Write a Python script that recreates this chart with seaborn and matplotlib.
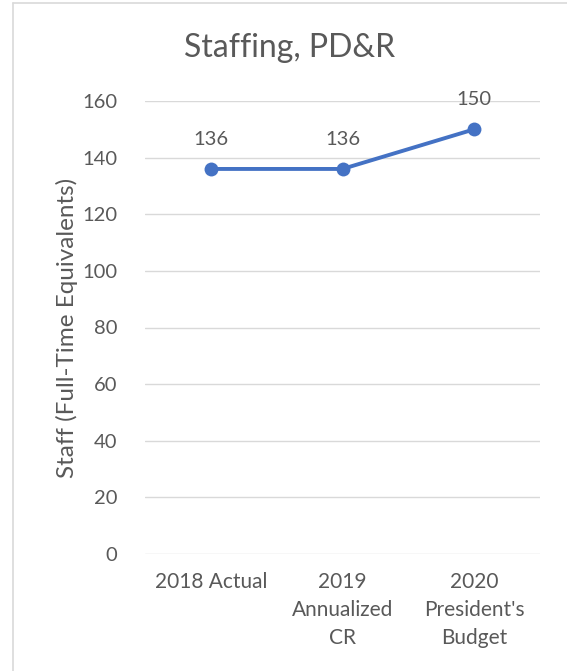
import matplotlib
matplotlib.use("Agg")
import matplotlib.pyplot as plt
import seaborn as sns
import pandas as pd
from matplotlib.lines import Line2D

categories = ["2018 Actual", "2019\nAnnualized\nCR", "2020\nPresident's\nBudget"]
staff = [136, 136, 150]
yticks = [0, 20, 40, 60, 80, 100, 120, 140, 160]

sns.set_theme(style="white")
plt.rcParams['font.family'] = ['Lato', 'DejaVu Sans']
txt = "#595959"
blue = "#4472C4"

df = pd.DataFrame({"x": list(range(len(categories))), "staff": staff})

fig = plt.figure(figsize=(5.67, 6.71), dpi=100)
ax = fig.add_axes([145/567, 1-554/671, 395/567, 453/671])

sns.lineplot(data=df, x="x", y="staff", ax=ax, color=blue, linewidth=2.8,
             marker="o", markersize=10, markeredgewidth=0, zorder=3)

ax.set_xlim(-0.5, 2.5)
ax.set_ylim(0, 160)
ax.set_yticks(yticks)
ax.set_xticks(range(len(categories)))
ax.set_xticklabels(categories, color=txt, fontsize=15, linespacing=1.5, va="top")
ax.set_yticklabels([str(v) for v in yticks], color=txt, fontsize=14.5)
ax.tick_params(axis="y", length=0, pad=20)
ax.tick_params(axis="x", length=0, pad=13)
ax.grid(axis="y", color="#D9D9D9", linewidth=1)
ax.set_axisbelow(True)
for s in ax.spines.values():
    s.set_visible(False)
ax.set_xlabel("")
ax.set_ylabel("Staff (Full-Time Equivalents)", color=txt, fontsize=17.5, labelpad=3)

for i, v in enumerate(staff):
    ax.annotate(str(v), (i, v), xytext=(0, 15), textcoords="offset points",
                ha="center", va="bottom", color=txt, fontsize=14.5)

fig.text(290/567, 1-48/671, "Staffing, PD&R", ha="center", va="center",
         color=txt, fontsize=23)

fig.add_artist(Line2D([12.5/567, 1], [1-2.5/671, 1-2.5/671], color="#D9D9D9", linewidth=1.2, transform=fig.transFigure))
fig.add_artist(Line2D([12.5/567, 12.5/567], [0, 1-2.5/671], color="#D9D9D9", linewidth=1.2, transform=fig.transFigure))

fig.savefig("out.png", dpi=100, facecolor="white")
